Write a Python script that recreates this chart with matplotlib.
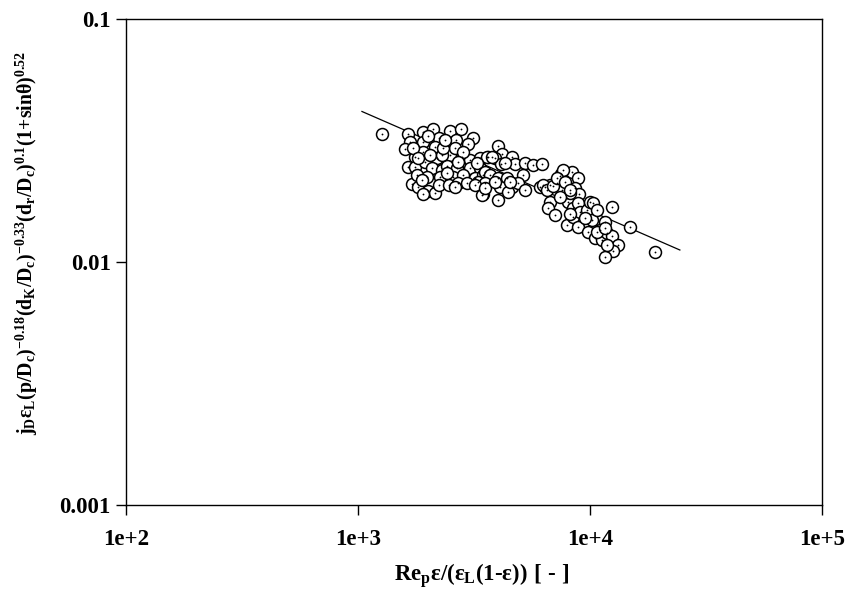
import numpy as np
import matplotlib.pyplot as plt
from matplotlib.ticker import FixedLocator, NullLocator, FixedFormatter

plt.rcParams['font.family'] = ['Liberation Serif', 'DejaVu Serif']
plt.rcParams['font.weight'] = 'bold'
plt.rcParams['mathtext.fontset'] = 'custom'
plt.rcParams['mathtext.rm'] = 'Liberation Serif:bold'
plt.rcParams['mathtext.it'] = 'Liberation Serif:bold'
plt.rcParams['mathtext.bf'] = 'Liberation Serif:bold'

# measured points: modified Reynolds number vs. corrected j-factor
re_mod = [
    1269, 1643, 1906, 2105, 2235, 2493, 2790, 3132, 1676, 1906,
    2147, 2443, 2646, 2980, 1595, 1761, 1906, 2190, 2493, 2808,
    3040, 3356, 3634, 1643, 1761, 1945, 2085, 2302, 2419, 2672,
    3040, 3356, 1983, 2257, 2568, 2835, 3193, 3458, 1710, 1814,
    2003, 2147, 2235, 2468, 2698, 2950, 3458, 3290,
    4013, 4176, 3598, 3895, 4612, 4752, 5246, 5680, 6210, 4135,
    3526, 3707, 4013, 4388, 5143, 3526, 4094, 4612, 4900, 5246,
    3424, 4013, 4430, 6088, 6399, 6725, 7209, 7500, 8366, 8879,
    7575, 8619, 6725, 8967, 7962,
    6300, 6528, 6928, 7427, 7650, 6600, 7067, 7962, 8040, 8450,
    8450, 8879, 9056, 8879, 9707, 10000, 10302, 10200, 9800, 10720,
    11606, 11044, 10510, 11264, 12440, 11838, 12440, 13205, 12600, 11606,
    14876, 19061,
    1727, 1814, 2040, 2302, 2620, 2835, 2330, 2003, 2371, 1796,
    1887, 2419, 2620, 1906, 3193, 3526, 3260, 2698,
    3780, 4303, 4522, 3895, 7209, 7804, 8202, 7427,
    8202, 9515, 10720, 11606, 11838, 8202,
]
jd_corr = [
    0.0336, 0.0336, 0.0343, 0.0353, 0.0324, 0.0346, 0.0353, 0.0324, 0.0312, 0.0312,
    0.0297, 0.0300, 0.0318, 0.0306, 0.0292, 0.0271, 0.0284, 0.0268, 0.0276, 0.0271,
    0.0263, 0.0268, 0.0271, 0.0246, 0.0246, 0.0258, 0.0244, 0.0239, 0.0248, 0.0244,
    0.0244, 0.0244, 0.0224, 0.0224, 0.0224, 0.0228, 0.0222, 0.0228, 0.0209, 0.0204,
    0.0196, 0.0192, 0.0207, 0.0207, 0.0211, 0.0211, 0.0191, 0.0213,
    0.0300, 0.0278, 0.0271, 0.0268, 0.0271, 0.0253, 0.0256, 0.0251, 0.0253, 0.0253,
    0.0235, 0.0228, 0.0222, 0.0222, 0.0228, 0.0211, 0.0204, 0.0204, 0.0211, 0.0198,
    0.0189, 0.0180, 0.0194, 0.0204, 0.0204, 0.0207, 0.0211, 0.0230, 0.0235, 0.0222,
    0.0198, 0.0202, 0.0177, 0.0191, 0.0183,
    0.0207, 0.0198, 0.0206, 0.0226, 0.0239, 0.0167, 0.0156, 0.0142, 0.0177, 0.0167,
    0.0153, 0.0175, 0.0161, 0.0139, 0.0164, 0.0177, 0.0175, 0.0149, 0.0133, 0.0164,
    0.0146, 0.0135, 0.0126, 0.0123, 0.0169, 0.0132, 0.0128, 0.0117, 0.0111, 0.0105,
    0.0139, 0.0110,
    0.0295, 0.0268, 0.0276, 0.0276, 0.0295, 0.0284, 0.0295, 0.0330, 0.0318, 0.0228,
    0.0218, 0.0232, 0.0204, 0.0191, 0.0207, 0.0202, 0.0256, 0.0258,
    0.0271, 0.0256, 0.0213, 0.0213, 0.0222, 0.0213, 0.0192, 0.0185,
    0.0198, 0.0152, 0.0133, 0.0138, 0.0117, 0.0158,
]

# correlation line  jD* = C * Re*^n
fit_range = [1040, 24400]
fit_c = 0.749
fit_n = -0.416

x_ticks = [1e2, 1e3, 1e4, 1e5]
x_labels = ['1e+2', '1e+3', '1e+4', '1e+5']
y_ticks = [1e-3, 1e-2, 1e-1]
y_labels = ['0.001', '0.01', '0.1']

fig = plt.figure(figsize=(8.59, 5.90), dpi=100)
ax = fig.add_axes([0.1467, 0.1441, 0.8102, 0.8237])

xf = np.logspace(np.log10(fit_range[0]), np.log10(fit_range[1]), 50)
ax.plot(xf, fit_c * xf ** fit_n, color='black', lw=0.9, zorder=1)

ax.plot(re_mod, jd_corr, linestyle='none', marker='o', ms=8.6,
        mfc='white', mec='black', mew=1.1, zorder=2)
ax.plot(re_mod, jd_corr, linestyle='none', marker='o', ms=1.3,
        mfc='black', mec='black', mew=0, zorder=3)

ax.set_xscale('log')
ax.set_yscale('log')
ax.set_xlim(1e2, 1e5)
ax.set_ylim(1e-3, 1e-1)

ax.xaxis.set_major_locator(FixedLocator(x_ticks))
ax.xaxis.set_major_formatter(FixedFormatter(x_labels))
ax.yaxis.set_major_locator(FixedLocator(y_ticks))
ax.yaxis.set_major_formatter(FixedFormatter(y_labels))
ax.xaxis.set_minor_locator(NullLocator())
ax.yaxis.set_minor_locator(NullLocator())
ax.tick_params(direction='out', length=7, width=1, labelsize=16.5)
ax.tick_params(axis='x', pad=10)
ax.tick_params(axis='y', pad=4)
for lab in ax.get_xticklabels() + ax.get_yticklabels():
    lab.set_fontweight('bold')
for s in ax.spines.values():
    s.set_linewidth(1.0)

ax.set_xlabel(r'$\mathrm{Re}_\mathrm{p}\varepsilon/(\varepsilon_\mathrm{L}(1\text{-}\varepsilon))\ [\ \text{-}\ ]$',
              fontsize=16.5, va='center')
ax.xaxis.set_label_coords(0.5115, -0.146)
ax.set_ylabel(r'$\mathrm{j}_\mathrm{D}\varepsilon_\mathrm{L}(\mathrm{p/D_c})^{-0.18}'
              r'(\mathrm{d_K/D_c})^{-0.33}(\mathrm{d_r/D_c})^{0.1}(1\mathrm{+sin}\theta)^{0.52}$',
              fontsize=14.2, va='center')
ax.yaxis.set_label_coords(-0.142, 0.539)

fig.savefig('out.png', dpi=100)
